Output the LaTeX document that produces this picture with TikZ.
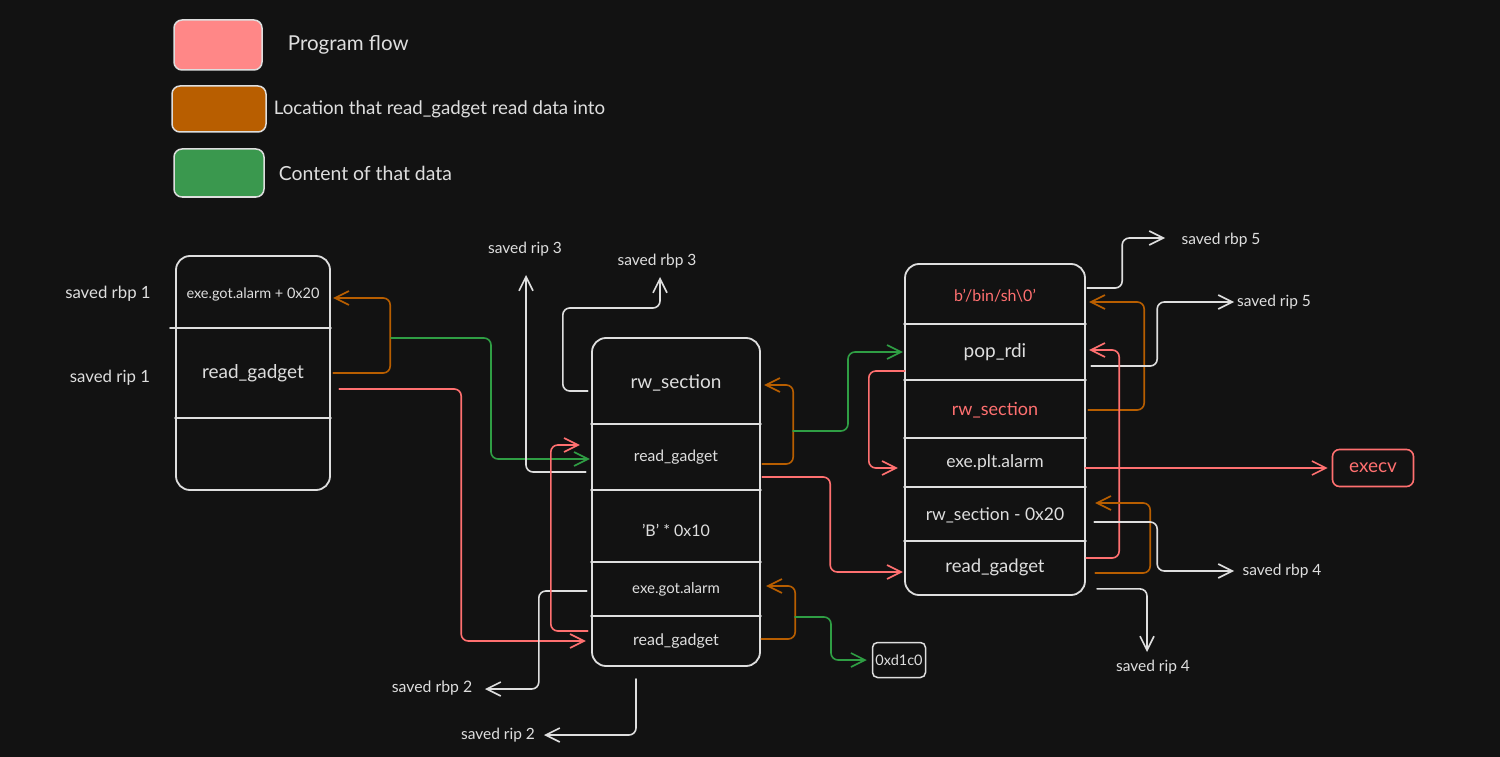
\documentclass[tikz,border=0pt]{standalone}
\usepackage{fontspec}
\setmainfont{Lato}
\usetikzlibrary{arrows.meta,calc,positioning}

\definecolor{bg}{RGB}{18,18,18}
\definecolor{ink}{RGB}{222,222,222}
\definecolor{flowred}{RGB}{255,112,112}
\definecolor{flowpink}{RGB}{255,135,135}
\definecolor{locorange}{RGB}{184,94,0}
\definecolor{datagreen}{RGB}{47,158,68}
\definecolor{greenfill}{RGB}{58,152,78}

\begin{document}
\begin{tikzpicture}[
  x=1pt,y=-1pt,
  line join=round,line cap=round,
  fs/.style={font=\fontsize{#1}{#1}\selectfont},
  stackbox/.style={draw=ink,line width=1.8pt,rounded corners=14pt,inner sep=0pt},
  divider/.style={draw=ink,line width=1.8pt},
  cell/.style={inner sep=0pt,text=ink,fs=17},
  lbl/.style={inner sep=0pt,text=ink,fs=15.5},
  keybox/.style={draw=ink,line width=1.5pt,rounded corners=8pt},
  keytext/.style={inner sep=0pt,text=ink,fs=18.7,anchor=west},
  wire/.style={draw=ink,line width=1.6pt,rounded corners=7pt,-{Straight Barb[length=14pt,width=14pt]}},
  flow/.style={wire,draw=flowred},
  loc/.style={wire,draw=locorange},
  data/.style={wire,draw=datagreen},
]
  \useasboundingbox (0,0) rectangle (1500,757);
  \fill[bg] (0,0) rectangle (1500,757);

  % legend
  \node[keybox,fill=flowpink,minimum width=88pt,minimum height=50pt] (keyflow) at (218,45) {};
  \node[keytext,right=25pt of keyflow,fs=20.5] (keyflowtxt) {Program flow};
  \node[keybox,fill=locorange,minimum width=94pt,minimum height=46pt] (keyloc) at (219,109) {};
  \node[keytext,right=7pt of keyloc] (keyloctxt) {Location that read\_gadget read data into};
  \node[keybox,fill=greenfill,minimum width=90pt,minimum height=48pt] (keydata) at (219,173) {};
  \node[keytext,right=14pt of keydata,fs=19.4] (keydatatxt) {Content of that data};

  % stack 1
  \node[stackbox,minimum width=154pt,minimum height=234pt] (stackA) at (253,373) {};
  \draw[divider] (170,328) -- (stackA.east |- 0,328);
  \draw[divider] (stackA.west |- 0,418) -- (stackA.east |- 0,418);
  \node[cell,fs=14.5,minimum width=154pt] (s1a) at (253,294) {exe.got.alarm + 0x20};
  \node[cell,fs=19,minimum width=154pt] (s1b) at (253,373) {read\_gadget};
  \node[cell,minimum width=154pt] (s1c) at (253,454) {};
  \node[lbl,fs=16.8] (lblRbp1) at (108,294) {saved rbp 1};
  \node[lbl,fs=16.8] (lblRip1) at (110,378) {saved rip 1};

  % stack 2
  \node[stackbox,minimum width=168pt,minimum height=328pt] (stackB) at (676,502) {};
  \foreach \y in {424,490,562,616}
    \draw[divider] (stackB.west |- 0,\y) -- (stackB.east |- 0,\y);
  \node[cell,fs=19,minimum width=168pt] (s2a) at (676,383) {rw\_section};
  \node[cell,fs=15.7,minimum width=168pt] (s2b) at (676,457) {read\_gadget};
  \node[cell,fs=16,minimum width=168pt] (s2c) at (676,530) {'B' * 0x10};
  \node[cell,fs=15,minimum width=168pt] (s2d) at (676,589) {exe.got.alarm};
  \node[cell,fs=16,minimum width=168pt] (s2e) at (676,641) {read\_gadget};
  \node[lbl] (lblRip3) at (525,249) {saved rip 3};
  \node[lbl] (lblRbp3) at (657,261) {saved rbp 3};
  \node[lbl,fs=15.8] (lblRbp2) at (432,688) {saved rbp 2};
  \node[lbl] (lblRip2) at (498,735) {saved rip 2};
  \node[draw=ink,line width=1.5pt,rounded corners=5pt,inner sep=0pt,minimum width=53pt,minimum height=35pt,text=ink,fs=14.5] (hexv) at (899,660) {0xd1c0};

  % stack 3
  \node[stackbox,minimum width=180pt,minimum height=331pt] (stackC) at (995,429.5) {};
  \foreach \y in {324,380,438,487,541}
    \draw[divider] (stackC.west |- 0,\y) -- (stackC.east |- 0,\y);
  \node[cell,fs=16,text=flowred,minimum width=180pt] (s3a) at (995,296) {b'/bin/sh\textbackslash 0'};
  \node[cell,fs=19,minimum width=180pt] (s3b) at (995,352) {pop\_rdi};
  \node[cell,fs=18,text=flowred,minimum width=180pt] (s3c) at (995,410) {rw\_section};
  \node[cell,fs=17.5,minimum width=180pt] (s3d) at (995,463) {exe.plt.alarm};
  \node[cell,fs=17.5,minimum width=180pt] (s3e) at (995,515) {rw\_section - 0x20};
  \node[cell,fs=18.5,minimum width=180pt] (s3f) at (995,567) {read\_gadget};
  \node[draw=flowred,line width=1.6pt,rounded corners=7pt,minimum width=81pt,minimum height=37pt,text=flowred,fs=19] (execv) at (1373,468) {execv};
  \node[lbl] (lblRbp5) at (1221,240) {saved rbp 5};
  \node[lbl] (lblRip5) at (1274,302) {saved rip 5};
  \node[lbl] (lblRbp4) at (1282,571) {saved rbp 4};
  \node[lbl] (lblRip4) at (1153,667) {saved rip 4};

  % stack 1 links
  \draw[loc] ($(s1b.east)+(3,0)$) -- ++(57,0) |- ($(s1a.east)+(3,4)$);
  \coordinate (g1) at (391,338);
  \draw[data] (g1) -- ++(100,0) |- ($(s2b.west)+(-2,2)$);
  \draw[flow] ($(s1b.east)+(9,16)$) -- ++(122,0) |- ($(s2e.west)+(-6,0)$);

  % stack 2 links
  \draw[wire] ($(s2b.west)+(-6,15)$) -| ($(lblRip3)+(1,26)$);
  \draw[wire] ($(s2a.west)+(-4,8)$) -- ++(-25,0) -- ++(0,-83) -| ($(lblRbp3)+(3,16)$);
  \draw[wire] ($(s2d.west)+(-5,2)$) -- ++(-48,0) |- ($(lblRbp2)+(53,1)$);
  \draw[wire] ($(stackB.south)+(-40,12)$) |- ($(lblRip2)+(46,0)$);
  \draw[flow] ($(s2e.west)+(-4,-10)$) -- ++(-37,0) |- ($(s2b.west)+(-12,-12)$);
  \draw[loc] ($(s2b.east)+(2,7)$) -- ++(31,0) |- ($(s2a.east)+(4,2)$);
  \coordinate (g2) at (793,431);
  \draw[data] (g2) -- ++(55,0) |- ($(s3b.west)+(-2,0)$);
  \draw[flow] ($(s2b.east)+(2,20)$) -- ++(68,0) |- ($(s3f.west)+(-2,5)$);
  \draw[loc] ($(s2e.east)+(1,-2)$) -- ++(34,0) |- ($(s2d.east)+(6,-3)$);
  \coordinate (g3) at (795,617);
  \draw[data] (g3) -- ++(36,0) |- ($(hexv.west)+(-5,0)$);

  % stack 3 links
  \draw[wire] ($(s3a.east)+(2,-8)$) -- ++(35,0) |- ($(lblRbp5)+(-56,-2)$);
  \draw[loc] ($(s3c.east)+(3,0)$) -- ++(56,0) |- ($(s3a.east)+(4,6)$);
  \draw[wire] ($(s3b.east)+(6,14)$) -- ++(66,0) |- ($(lblRip5)+(-40,0)$);
  \draw[flow] ($(s3f.east)+(1,-9)$) -- ++(33,0) |- ($(s3b.east)+(4,-2)$);
  \draw[flow] ($(s3b.west)+(0,19)$) -- ++(-36,0) |- ($(s3d.west)+(-7,5)$);
  \draw[flow] ($(s3d.east)+(0,5)$) -- ($(execv.west)+(-4,0)$);
  \draw[loc] ($(s3f.east)+(10,6)$) -- ++(55,0) |- ($(s3e.east)+(10,-12)$);
  \draw[wire] ($(s3e.east)+(9,7)$) -- ++(63,0) |- ($(lblRbp4)+(-48,0)$);
  \draw[wire] ($(stackC.south)+(102,-7)$) -| ($(lblRip4)+(-6,-15)$);
\end{tikzpicture}
\end{document}
